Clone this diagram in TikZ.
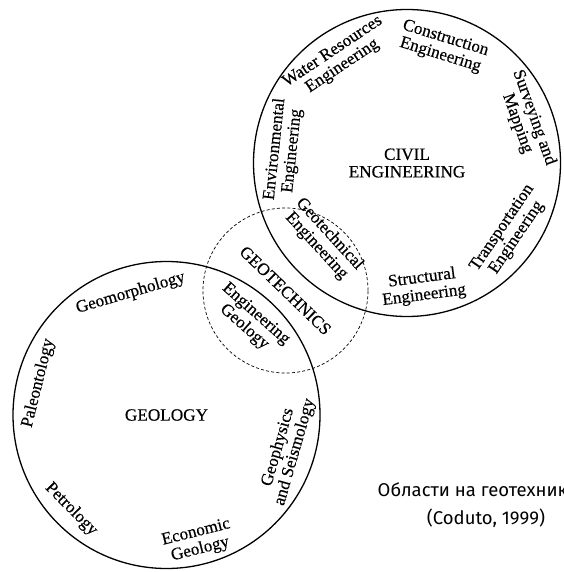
\documentclass[tikz,border=0pt]{standalone}
\usepackage{fontspec}
\setmainfont{Liberation Serif}[FakeBold=0.4]
\newfontfamily\capfont{Fira Sans}
\usetikzlibrary{positioning}

\newcommand\labelfont{\fontsize{17.2}{17.5}\selectfont}

\begin{document}
\begin{tikzpicture}[x=1pt,y=1pt,
  field/.style={circle,draw,line width=1.3pt,minimum size=307pt,inner sep=0pt,align=center,font=\labelfont},
  overlap/.style={circle,draw,dashed,dash pattern=on 3pt off 2.2pt,line width=0.7pt,minimum size=165pt,inner sep=0pt,font=\labelfont},
  sub/.style={align=center,font=\labelfont,inner sep=1pt}]
  \useasboundingbox (0,0) rectangle (563,-572);

  \node[overlap] (geotech) at (285.5,-290.5) {};
  \node[field] (civil) at (407,-163) {CIVIL\\ENGINEERING};
  \node[field] (geology) at (166.5,-415) {GEOLOGY};
  \node[font=\labelfont,rotate=-44] (geotechnics) at (geotech.center) {GEOTECHNICS};

  % civil engineering branches
  \path (civil.center) ++(123.7:125) node[sub,rotate=33.7] (water) {Water Resources\\Engineering};
  \path (civil.center) ++(72.8:121.5) node[sub,rotate=-17.2] (construction) {Construction\\Engineering};
  \path (civil.center) ++(19.7:126) node[sub,rotate=-70.3] (surveying) {Surveying and\\Mapping};
  \path (civil.center) ++(-34.2:124) node[sub,rotate=55.8] (transport) {Transportation\\Engineering};
  \path (civil.center) ++(-82.6:125) node[sub,rotate=7.4] (structural) {Structural\\Engineering};
  \path (civil.center) ++(174:124) node[sub,rotate=84] (environmental) {Environmental\\Engineering};
  \path (civil.center) ++(-137.5:114) node[sub,rotate=-47.5] (geotechnical) {Geotechnical\\Engineering};

  % geology branches
  \path (geology.center) ++(106.4:127) node[sub,rotate=16.4] (geomorph) {Geomorphology};
  \path (geology.center) ++(166:132) node[sub,rotate=76] (paleo) {Paleontology};
  \path (geology.center) ++(-135.3:134) node[sub,rotate=-45.3] (petro) {Petrology};
  \path (geology.center) ++(-75.9:130) node[sub,rotate=14.1] (economic) {Economic\\Geology};
  \path (geology.center) ++(-16.1:125) node[sub,rotate=73.9] (geophysics) {Geophysics\\and Seismology};
  \path (geology.center) ++(48.5:126) node[sub,rotate=-41.5] (enggeology) {Engineering\\Geology};

  \node[align=center,font={\capfont\fontsize{18.5}{28}\selectfont}] (caption) at (486,-505) {Области на геотехниката\\(Coduto, 1999)};
\end{tikzpicture}
\end{document}
